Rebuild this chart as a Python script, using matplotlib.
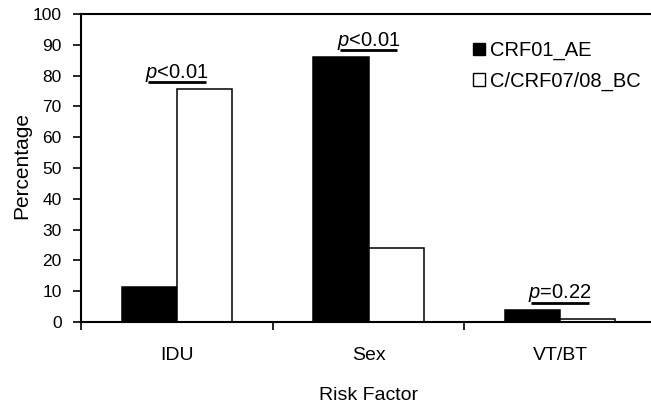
import matplotlib
matplotlib.use("Agg")
import matplotlib.pyplot as plt
import numpy as np

categories = ["IDU", "Sex", "VT/BT"]
crf01_ae = [11.3, 85.9, 3.9]
c_crf0708_bc = [75.5, 23.9, 1.0]
series_names = ["CRF01_AE", "C/CRF07/08_BC"]
p_labels = ["<0.01", "<0.01", "=0.22"]
y_ticks = [0, 10, 20, 30, 40, 50, 60, 70, 80, 90, 100]

plt.rcParams['font.family'] = ['Liberation Sans', 'DejaVu Sans']
plt.rcParams['mathtext.fontset'] = 'custom'
plt.rcParams['mathtext.it'] = 'Liberation Sans:italic'
plt.rcParams['mathtext.rm'] = 'Liberation Sans'

fig = plt.figure(figsize=(6.51, 4.07), dpi=100)
ax = fig.add_axes([81/651, 1-322/407, (656-81)/651, (322-14)/407])

x = np.arange(len(categories))
w = 0.287
ax.bar(x - w/2, crf01_ae, w, color='black', edgecolor='black', linewidth=1.1,
       label=series_names[0])
ax.bar(x + w/2, c_crf0708_bc, w, color='white', edgecolor='black', linewidth=1.1,
       label=series_names[1])

ax.set_xlim(-0.5, 2.5)
ax.set_ylim(0, 100)
ax.set_yticks(y_ticks)
ax.tick_params(axis='y', direction='out', length=6, width=1.2, pad=8, labelsize=12.5)

ax.set_xticks([-0.5, 0.5, 1.5, 2.5])
ax.set_xticklabels([])
ax.tick_params(axis='x', which='major', direction='out', length=6, width=1.2)
ax.set_xticks(x, minor=True)
ax.set_xticklabels(categories, minor=True)
ax.tick_params(axis='x', which='minor', length=0, pad=18, labelsize=14)

for s in ['top', 'bottom', 'left']:
    ax.spines[s].set_linewidth(1.5)
ax.spines['right'].set_visible(False)

ax.set_ylabel("Percentage", fontsize=15)
ax.yaxis.label.set_va('center')
ax.yaxis.set_label_coords(-(81-22)/575, 0.508)
ax.set_xlabel("Risk Factor", fontsize=14)
ax.xaxis.label.set_va('center')
ax.xaxis.set_label_coords(0.5, -(395-322)/308)

# p-value annotations
for i, pl in enumerate(p_labels):
    top = max(crf01_ae[i], c_crf0708_bc[i])
    yl = top + 2.4
    ax.plot([i - 0.151, i + 0.151], [yl, yl], color='black', lw=2, solid_capstyle='butt')
    ax.text(i, yl + 1.4, r"$\it{p}$" + pl, ha='center', va='baseline', fontsize=14.5)

leg = ax.legend(loc='upper left', bbox_to_anchor=((473-81)/575, (322-41)/308),
                frameon=False, fontsize=14.5, handlelength=0.6, handleheight=0.6,
                handletextpad=0.25, labelspacing=0.55, borderaxespad=0, borderpad=0)
for h in leg.legend_handles:
    h.set_linewidth(1.0)

fig.savefig("out.png", dpi=100)
